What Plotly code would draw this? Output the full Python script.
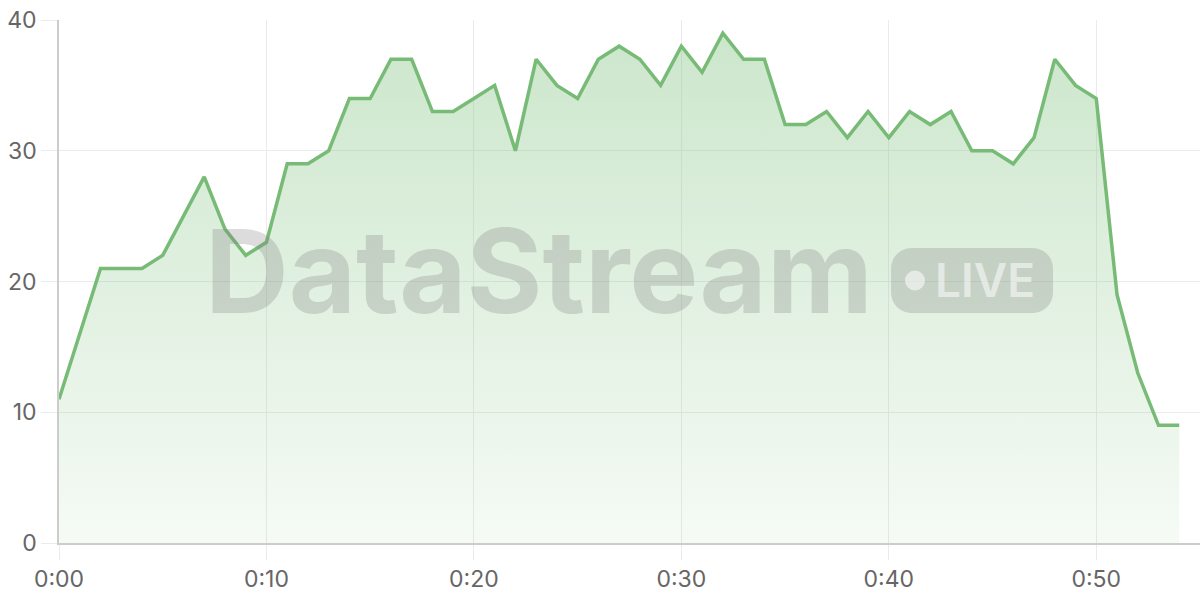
import plotly.graph_objects as go

# minutes since start (one sample per minute)
minutes = list(range(55))
values = [11, 16, 21, 21, 21, 22, 25, 28, 24, 22,
          23, 29, 29, 30, 34, 34, 37, 37, 33, 33,
          34, 35, 30, 37, 35, 34, 37, 38, 37, 35,
          38, 36, 39, 37, 37, 32, 32, 33, 31, 33,
          31, 33, 32, 33, 30, 30, 29, 31, 37, 35,
          34, 19, 13, 9, 9]

tick_vals = [0, 10, 20, 30, 40, 50]
tick_text = ["0:00", "0:10", "0:20", "0:30", "0:40", "0:50"]
y_ticks = [0, 10, 20, 30, 40]

line_color = "#77bb77"
grid_color = "#ebebeb"
axis_color = "#cccccc"
font_family = "Inter"

fig = go.Figure()

fig.add_trace(go.Scatter(
    x=minutes, y=values,
    mode="lines",
    line=dict(color=line_color, width=3.5),
    fill="tozeroy",
    fillgradient=dict(
        type="vertical",
        colorscale=[[0, "rgba(120,190,120,0.07)"], [1, "rgba(120,190,120,0.38)"]],
    ),
    hoverinfo="skip",
    showlegend=False,
))

# watermark
wm_gray = "rgba(128,128,128,0.28)"
fig.add_annotation(
    text="<b>DataStream</b>", xref="paper", yref="paper",
    x=0.126, y=0.521, xanchor="left", yanchor="middle",
    showarrow=False,
    font=dict(family=font_family, size=116, color=wm_gray, weight=900),
)
fig.add_shape(
    type="path", xref="paper", yref="paper",
    xsizemode="pixel", ysizemode="pixel",
    xanchor=0.8002, yanchor=0.502,
    path="M -60,-32.5 L 60,-32.5 C 72,-32.5 81,-23.5 81,-11.5 L 81,11.5 "
         "C 81,23.5 72,32.5 60,32.5 L -60,32.5 C -72,32.5 -81,23.5 -81,11.5 "
         "L -81,-11.5 C -81,-23.5 -72,-32.5 -60,-32.5 Z",
    fillcolor=wm_gray, line=dict(width=0),
)
fig.add_shape(
    type="circle", xref="paper", yref="paper",
    xsizemode="pixel", ysizemode="pixel",
    xanchor=0.7502, yanchor=0.502,
    x0=-10, x1=10, y0=-10, y1=10,
    fillcolor="rgba(255,255,255,0.55)", line=dict(width=0),
)
fig.add_annotation(
    text="LIVE", xref="paper", yref="paper",
    x=0.8116, y=0.502, xanchor="center", yanchor="middle",
    showarrow=False,
    font=dict(family=font_family, size=46, color="rgba(255,255,255,0.55)", weight=600),
)

axis_common = dict(
    showgrid=True, gridcolor=grid_color, gridwidth=1,
    showline=True, linecolor=axis_color, linewidth=1.5,
    ticks="outside", tickcolor=grid_color, tickwidth=1,
    zeroline=False,
    tickfont=dict(family=font_family, size=23, color="#666666"),
)

fig.update_xaxes(range=[0, 55], tickvals=tick_vals, ticktext=tick_text,
                 ticklen=15, **axis_common)
fig.update_yaxes(range=[0, 40], tickvals=y_ticks, ticklen=16, **axis_common)

fig.update_layout(
    width=1200, height=600,
    margin=dict(l=59, r=0, t=20, b=57, autoexpand=False),
    paper_bgcolor="white", plot_bgcolor="white",
    font=dict(family=font_family),
)

fig.write_html(
    "out.html",
    config={"displayModeBar": False},
    post_script="document.body.style.margin='0';document.body.style.overflow='hidden';",
)
